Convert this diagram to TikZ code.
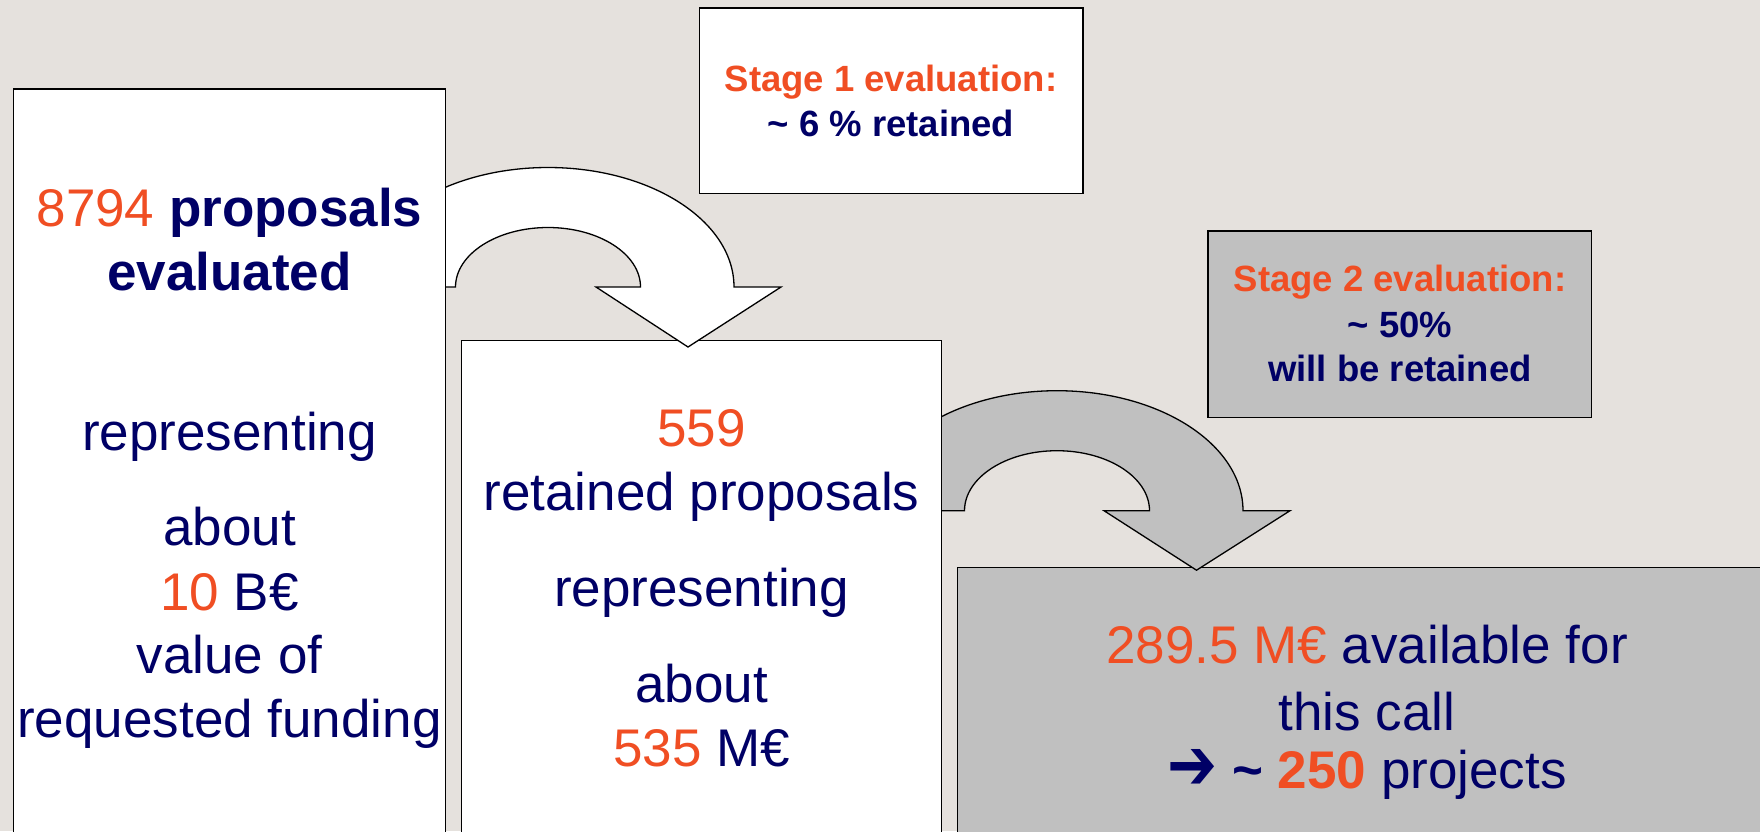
\documentclass[tikz,border=0pt]{standalone}
\usepackage{fontspec}
\usepackage{graphicx}
\setmainfont{Liberation Sans}
\newfontfamily\dejavu{DejaVu Sans}
\definecolor{bg}{RGB}{229,225,221}
\definecolor{orng}{RGB}{240,78,35}
\definecolor{navy}{RGB}{0,0,102}
\definecolor{gry}{RGB}{192,192,192}
\begin{document}
\begin{tikzpicture}[x=1pt,y=1pt,
  box/.style={draw=black,line width=1.6pt,rectangle,anchor=north west,inner sep=0pt,outer sep=0pt},
  bigtxt/.style={anchor=base,font=\fontsize{53}{64}\selectfont,text=navy,inner sep=0pt},
  smalltxt/.style={anchor=base,font=\fontsize{36.5}{44}\selectfont\bfseries,text=navy,inner sep=0pt},
  uarrow/.style={draw=black,line width=1.3pt,line join=miter}]
\useasboundingbox (0,0) rectangle (1760,-831);
\clip (0,0) rectangle (1760,-831);
\fill[bg] (0,0) rectangle (1760,-831);

% stage boxes
\node[box,fill=white,minimum width=383.5pt,minimum height=185.5pt] (s1) at (699.5,-8) {};
\node[box,fill=gry,minimum width=383.5pt,minimum height=186.6pt] (s2) at (1208,-230.7) {};

% final box
\node[box,fill=gry,minimum width=822pt,minimum height=300pt] (fin) at (957.6,-567.3) {};

% arrow 2 (grey)
\path[uarrow,fill=gry,shift={(1057,-510.7)}] (-186,0)
  arc[start angle=180,end angle=0,x radius=186,y radius=120] -- (233,0) -- (139.5,-59.5) -- (47,0) -- (92.5,0)
  arc[start angle=0,end angle=180,x radius=92.5,y radius=60] -- cycle;

% box 2
\node[box,fill=white,minimum width=480pt,minimum height=530pt] (b2) at (461.4,-340.3) {};

% arrow 1 (white)
\path[uarrow,fill=white,shift={(548,-287)}] (-186,0)
  arc[start angle=180,end angle=0,x radius=186,y radius=119.5] -- (233,0) -- (140,-60) -- (48,0) -- (92.5,0)
  arc[start angle=0,end angle=180,x radius=92.5,y radius=59.5] -- cycle;

% left box
\node[box,fill=white,minimum width=432pt,minimum height=780pt] (lb) at (13.5,-89) {};

% left box texts
\node[bigtxt] (l1) at (229.5,-226.7) {\textcolor{orng}{8794} \textbf{proposals}};
\node[bigtxt] (l2) at (229.5,-290) {\textbf{evaluated}};
\node[bigtxt] (l3) at (229.5,-450) {representing};
\node[bigtxt] (l4) at (229.5,-545.7) {about};
\node[bigtxt] (l5) at (229.5,-610) {\textcolor{orng}{10} B€};
\node[bigtxt] (l6) at (229.5,-673.3) {value of};
\node[bigtxt] (l7) at (229.5,-737.3) {requested funding};

% box 2 texts
\node[bigtxt] (m1) at (701.5,-446.7) {\textcolor{orng}{559}};
\node[bigtxt] (m2) at (701.5,-510.7) {retained proposals};
\node[bigtxt] (m3) at (701.5,-606.7) {representing};
\node[bigtxt] (m4) at (701.5,-702.7) {about};
\node[bigtxt] (m5) at (701.5,-766.7) {\textcolor{orng}{535} M€};

% stage 1 texts
\node[smalltxt,text=orng] (t1) at (891,-91.7) {Stage 1 evaluation:};
\node[smalltxt] (t2) at (891,-136) {\textasciitilde{} 6 \% retained};

% stage 2 texts
\node[smalltxt,text=orng] (u1) at (1400,-291.7) {Stage 2 evaluation:};
\node[smalltxt] (u2) at (1400,-337.3) {\textasciitilde{} 50\%};
\node[smalltxt] (u3) at (1400,-381.7) {will be retained};

% final texts
\node[bigtxt] (f1) at (1367,-663.3) {\textcolor{orng}{289.5 M€} available for};
\node[bigtxt] (f2) at (1367,-730) {this call};
\node[bigtxt] (f3) at (1367,-788.3) {\raisebox{-1.5pt}{\resizebox*{50pt}{40pt}{\dejavu\bfseries ➔}} \textbf{\textasciitilde{}} \textbf{\textcolor{orng}{250}} projects};
\end{tikzpicture}
\end{document}
